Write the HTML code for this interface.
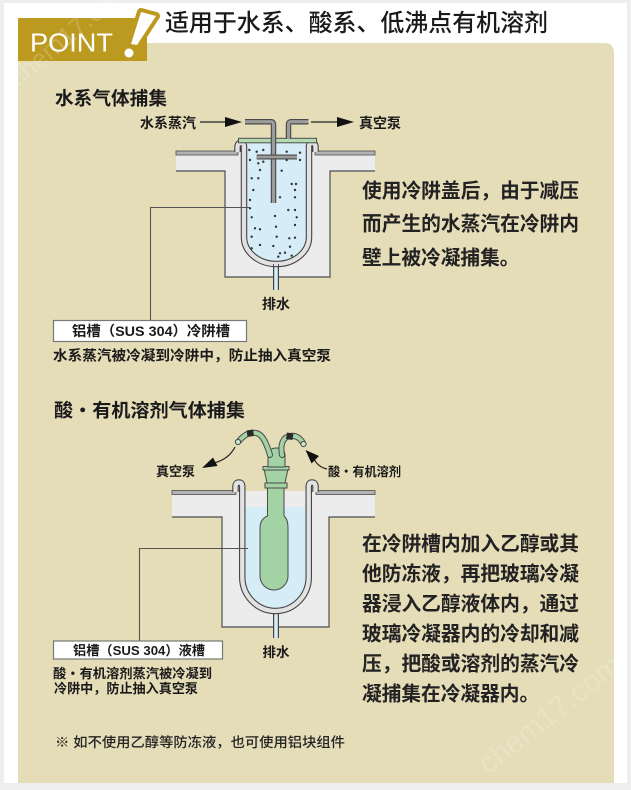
<!DOCTYPE html>
<html>
<head>
<meta charset="utf-8">
<style>
html,body{margin:0;padding:0;background:#eeeeee;}
svg{display:block;}
text{font-family:"Liberation Sans","Noto Sans CJK SC",sans-serif;}
</style>
</head>
<body>
<svg width="631" height="790" viewBox="0 0 631 790" xmlns="http://www.w3.org/2000/svg">
<rect x="0" y="0" width="631" height="790" fill="#eeeeee"/>
<rect x="4" y="3" width="623" height="780" fill="#ffffff"/>
<!-- panel -->
<path d="M18,43 H604 Q614,43 614,53 V783 H18 Z" fill="#e5dcb8"/>

<!-- POINT badge -->
<rect x="18" y="18" width="129" height="43" fill="#bc9a1f"/>
<path d="M141,12 L156,16 L137,45 L131,44 Z" fill="#ffffff" stroke="#bc9a1f" stroke-width="8" stroke-linejoin="round" paint-order="stroke"/>
<circle cx="129" cy="53" r="4.5" fill="#ffffff" stroke="#bc9a1f" stroke-width="5" paint-order="stroke"/>
<text x="30" y="51.5" font-size="26" fill="#ffffff" textLength="83" lengthAdjust="spacingAndGlyphs" style="font-family:'Liberation Sans',sans-serif">POINT</text>

<!-- title -->
<text x="165" y="31" font-size="24" font-weight="500" fill="#1a1a1a" textLength="383" lengthAdjust="spacingAndGlyphs">适用于水系、酸系、低沸点有机溶剂</text>

<!-- heading 1 -->
<text x="55" y="105" font-size="18.5" font-weight="bold" fill="#1a1a1a" textLength="112" lengthAdjust="spacingAndGlyphs">水系气体捕集</text>

<!-- ===== Diagram 1 ===== -->
<path d="M176,152 L375,152 L375,171 L330,171 L330,277 L225,277 L225,171 L176,171 Z" fill="#ececec"/>
<path d="M176,171 L225,171 L225,277 L330,277 L330,171 L375,171" fill="none" stroke="#4d4d4d" stroke-width="1.2"/>
<rect x="176" y="151" width="62" height="4" fill="#b3b3b3" stroke="#4d4d4d" stroke-width="0.8"/>
<rect x="315" y="151" width="60" height="4" fill="#b3b3b3" stroke="#4d4d4d" stroke-width="0.8"/>

<path d="M247,143 L247,237 A29.5,24 0 0 0 306,237 L306,143 Z" fill="#d6edf8"/>
<g fill="#333">
<circle cx="249.3" cy="150" r="1.2"/><circle cx="256.7" cy="151.7" r="1.2"/><circle cx="263.3" cy="150" r="1.2"/>
<circle cx="286.7" cy="151.7" r="1.2"/><circle cx="300" cy="152.7" r="1.2"/><circle cx="250" cy="160" r="1.2"/>
<circle cx="258.3" cy="163.3" r="1.2"/><circle cx="263.3" cy="161.7" r="1.2"/><circle cx="286.7" cy="160" r="1.2"/>
<circle cx="300" cy="160" r="1.2"/><circle cx="260" cy="170" r="1.2"/><circle cx="281.7" cy="170.7" r="1.2"/>
<circle cx="251.7" cy="178.3" r="1.2"/><circle cx="258.3" cy="178.3" r="1.2"/><circle cx="291.7" cy="184" r="1.2"/>
<circle cx="296" cy="184" r="1.2"/><circle cx="253.3" cy="190" r="1.2"/><circle cx="295" cy="190" r="1.2"/>
<circle cx="250" cy="200" r="1.2"/><circle cx="280" cy="197.3" r="1.2"/><circle cx="295" cy="197.3" r="1.2"/>
<circle cx="250" cy="208.3" r="1.2"/><circle cx="288.3" cy="210" r="1.2"/><circle cx="295" cy="210" r="1.2"/>
<circle cx="251.7" cy="217.3" r="1.2"/><circle cx="275" cy="216" r="1.2"/><circle cx="296.7" cy="217.3" r="1.2"/>
<circle cx="255" cy="228.3" r="1.2"/><circle cx="260" cy="229.3" r="1.2"/><circle cx="276" cy="226.7" r="1.2"/>
<circle cx="295" cy="225" r="1.2"/><circle cx="251.7" cy="236.7" r="1.2"/><circle cx="276.7" cy="236.7" r="1.2"/>
<circle cx="289.3" cy="238.3" r="1.2"/><circle cx="295" cy="237.7" r="1.2"/><circle cx="260" cy="245" r="1.2"/>
<circle cx="273.3" cy="246" r="1.2"/><circle cx="290" cy="246.7" r="1.2"/><circle cx="280" cy="253.3" r="1.2"/>
<circle cx="285" cy="252.7" r="1.2"/><circle cx="278.3" cy="256.7" r="1.2"/><circle cx="291.7" cy="255.7" r="1.2"/>
<circle cx="251.7" cy="248.3" r="1.2"/>
</g>
<path d="M276,262 L276,290" stroke="#444" stroke-width="6" fill="none"/>
<path d="M276,262 L276,290" stroke="#d6edf8" stroke-width="3.6" fill="none"/>
<path d="M237.5,152 L237.5,147 Q237.5,143 241,143 Q244,143 244,147 L244,237 A32.5,27 0 0 0 309,237 L309,147 Q309,143 312,143 Q315.5,143 315.5,147 L315.5,152" fill="none" stroke="#444" stroke-width="6.5" stroke-linejoin="round"/>
<path d="M237.5,152 L237.5,147 Q237.5,143 241,143 Q244,143 244,147 L244,237 A32.5,27 0 0 0 309,237 L309,147 Q309,143 312,143 Q315.5,143 315.5,147 L315.5,152" fill="none" stroke="#e2e2e2" stroke-width="4.3" stroke-linejoin="round"/>
<path d="M273.5,264 L273.5,290 M278.5,264 L278.5,290" stroke="#444" stroke-width="0.9"/>
<rect x="238.5" y="138.3" width="78" height="4.5" fill="#b5dbb0" stroke="#4d4d4d" stroke-width="1"/>
<g fill="none" stroke-linejoin="round">
<path d="M245,121.7 L271,121.7 Q273.5,121.7 273.5,124.5 L273.5,203" stroke="#4a4a4a" stroke-width="5.5"/>
<path d="M245,121.7 L271,121.7 Q273.5,121.7 273.5,124.5 L273.5,203" stroke="#9c9c9c" stroke-width="3.2"/>
<path d="M256.7,157 L297,157" stroke="#4a4a4a" stroke-width="5"/>
<path d="M256.7,157 L297,157" stroke="#9c9c9c" stroke-width="2.8"/>
<path d="M288.5,139 L288.5,124.5 Q288.5,121.7 291.3,121.7 L308.5,121.7" stroke="#4a4a4a" stroke-width="5.5"/>
<path d="M288.5,139 L288.5,124.5 Q288.5,121.7 291.3,121.7 L308.5,121.7" stroke="#9c9c9c" stroke-width="3.2"/>
</g>
<path d="M200,122 L228,122" stroke="#222" stroke-width="1.2"/>
<polygon points="225,117 242,122 225,127" fill="#111"/>
<path d="M311,122 L339,122" stroke="#222" stroke-width="1.2"/>
<polygon points="337,117 354,122 337,127" fill="#111"/>
<text x="196" y="128" font-size="14" font-weight="bold" fill="#1a1a1a" text-anchor="end">水系蒸汽</text>
<text x="359" y="128" font-size="14" font-weight="bold" fill="#1a1a1a">真空泵</text>
<text x="276" y="309" font-size="14" font-weight="bold" fill="#1a1a1a" text-anchor="middle">排水</text>

<path d="M250,207.5 L150.5,207.5 L150.5,320" fill="none" stroke="#555" stroke-width="1.1"/>
<rect x="53.5" y="320.5" width="193" height="21" fill="#ffffff" stroke="#777" stroke-width="1.2"/>
<text x="72" y="336" font-size="14" font-weight="bold" fill="#1a1a1a" textLength="158" lengthAdjust="spacingAndGlyphs">铝槽（SUS 304）冷阱槽</text>
<text x="53" y="360.5" font-size="14.3" font-weight="bold" fill="#1a1a1a" textLength="278" lengthAdjust="spacingAndGlyphs">水系蒸汽被冷凝到冷阱中，防止抽入真空泵</text>

<g font-size="19.7" font-weight="bold" fill="#222">
<text x="362" y="197.5" textLength="217" lengthAdjust="spacingAndGlyphs">使用冷阱盖后，由于减压</text>
<text x="362" y="230.5" textLength="217" lengthAdjust="spacingAndGlyphs">而产生的水蒸汽在冷阱内</text>
<text x="362" y="264.5">壁上被冷凝捕集。</text>
</g>

<text x="54" y="417" font-size="18.5" font-weight="bold" fill="#1a1a1a" textLength="191" lengthAdjust="spacingAndGlyphs">酸・有机溶剂气体捕集</text>

<!-- ===== Diagram 2 ===== -->
<path d="M172,491 L375,491 L375,517 L329,517 L329,627 L222,627 L222,517 L172,517 Z" fill="#ececec"/>
<path d="M172,517 L222,517 L222,627 L329,627 L329,517 L375,517" fill="none" stroke="#4d4d4d" stroke-width="1.2"/>
<rect x="172" y="490.5" width="64" height="4" fill="#b3b3b3" stroke="#4d4d4d" stroke-width="0.8"/>
<rect x="316" y="490.5" width="59" height="4" fill="#b3b3b3" stroke="#4d4d4d" stroke-width="0.8"/>

<path d="M245.5,507 L245.5,577 A30,31 0 0 0 305.5,577 L305.5,507 Z" fill="#d6edf8"/>
<path d="M276,610 L276,638" stroke="#444" stroke-width="6" fill="none"/>
<path d="M276,610 L276,638" stroke="#d6edf8" stroke-width="3.6" fill="none"/>
<path d="M235.5,492 L235.5,487 Q235.5,482.5 239,482.5 Q242.25,482.5 242.25,487 L242.25,577 A33.25,34 0 0 0 308.75,577 L308.75,487 Q308.75,482.5 312,482.5 Q315.5,482.5 315.5,487 L315.5,492" fill="none" stroke="#444" stroke-width="6.5" stroke-linejoin="round"/>
<path d="M235.5,492 L235.5,487 Q235.5,482.5 239,482.5 Q242.25,482.5 242.25,487 L242.25,577 A33.25,34 0 0 0 308.75,577 L308.75,487 Q308.75,482.5 312,482.5 Q315.5,482.5 315.5,487 L315.5,492" fill="none" stroke="#e2e2e2" stroke-width="4.3" stroke-linejoin="round"/>

<g stroke="#4a4a4a" stroke-width="1" fill="#a3d3a5">
<path d="M267.5,486 L267.5,516 Q260,519 260,528 L260,576 A14,14 0 0 0 288,576 L288,528 Q288,519 284,516 L284,486 Z"/>
<polygon points="264,469 288,469 285,483 267,483"/>
<rect x="265" y="483" width="22" height="5"/>
<rect x="263" y="466.5" width="26" height="3.5"/>
<path d="M268,467 L268,456 Q268,448 276.5,448 Q285,448 285,456 L285,467 Z"/>
</g>
<g fill="none" stroke-linecap="round" stroke-linejoin="round">
<path d="M270,455 C267,445 263,434 256,433 C250,432 245,434 239,441" stroke="#4a4a4a" stroke-width="6"/>
<path d="M270,455 C267,445 263,434 256,433 C250,432 245,434 239,441" stroke="#a3d3a5" stroke-width="4"/>
<path d="M282,455 C280,444 283,437 290,436 C296,435 300,438 303,443" stroke="#4a4a4a" stroke-width="6"/>
<path d="M282,455 C280,444 283,437 290,436 C296,435 300,438 303,443" stroke="#a3d3a5" stroke-width="4"/>
</g>
<rect x="247" y="430" width="6.5" height="6.5" fill="#2a2a2a" transform="rotate(-8 250 433)"/>
<rect x="286.5" y="433" width="6.5" height="6.5" fill="#2a2a2a" transform="rotate(10 290 436)"/>
<circle cx="238" cy="442" r="2.6" fill="#c8e6c8" stroke="#4a4a4a" stroke-width="1"/>
<circle cx="303.5" cy="444" r="2.6" fill="#c8e6c8" stroke="#4a4a4a" stroke-width="1"/>

<path d="M235,447 Q229,459 214,463" fill="none" stroke="#222" stroke-width="1.2"/>
<polygon points="202,468 213,457.5 217.5,466" fill="#111"/>
<path d="M314,459 Q318,467 327,469" fill="none" stroke="#222" stroke-width="1.2"/>
<polygon points="305.5,450 319,456 311.5,463.5" fill="#111"/>
<text x="156" y="476" font-size="13" font-weight="bold" fill="#1a1a1a" textLength="39" lengthAdjust="spacingAndGlyphs">真空泵</text>
<text x="328" y="476" font-size="12.5" font-weight="bold" fill="#1a1a1a" textLength="73" lengthAdjust="spacingAndGlyphs">酸・有机溶剂</text>
<text x="276" y="657" font-size="13.5" font-weight="bold" fill="#1a1a1a" text-anchor="middle">排水</text>

<path d="M248,548.5 L139.5,548.5 L139.5,641" fill="none" stroke="#555" stroke-width="1.1"/>
<rect x="53.5" y="641" width="169" height="18" fill="#ffffff" stroke="#777" stroke-width="1.2"/>
<text x="73" y="655" font-size="13" font-weight="bold" fill="#1a1a1a" textLength="132" lengthAdjust="spacingAndGlyphs">铝槽（SUS 304）液槽</text>
<text x="53" y="678" font-size="13.3" font-weight="bold" fill="#1a1a1a" textLength="159" lengthAdjust="spacingAndGlyphs">酸・有机溶剂蒸汽被冷凝到</text>
<text x="54" y="693" font-size="13.3" font-weight="bold" fill="#1a1a1a" textLength="144" lengthAdjust="spacingAndGlyphs">冷阱中，防止抽入真空泵</text>

<g font-size="19.7" font-weight="bold" fill="#222">
<text x="362" y="550.5" textLength="217" lengthAdjust="spacingAndGlyphs">在冷阱槽内加入乙醇或其</text>
<text x="362" y="580.5" textLength="217" lengthAdjust="spacingAndGlyphs">他防冻液，再把玻璃冷凝</text>
<text x="362" y="610.5" textLength="217" lengthAdjust="spacingAndGlyphs">器浸入乙醇液体内，通过</text>
<text x="362" y="640.5" textLength="217" lengthAdjust="spacingAndGlyphs">玻璃冷凝器内的冷却和减</text>
<text x="362" y="670.5" textLength="217" lengthAdjust="spacingAndGlyphs">压，把酸或溶剂的蒸汽冷</text>
<text x="362" y="700.5">凝捕集在冷凝器内。</text>
</g>

<text x="55" y="747" font-size="13.8" font-weight="500" fill="#222" textLength="290" lengthAdjust="spacingAndGlyphs">※ 如不使用乙醇等防冻液，也可使用铝块组件</text>

<text x="0" y="0" font-size="26" fill="#ffffff" fill-opacity="0.18" transform="translate(18,88) rotate(-40)" style="font-family:'Liberation Sans',sans-serif">chem17.com</text>
<text x="0" y="0" font-size="30" fill="#ffffff" fill-opacity="0.18" transform="translate(488,775) rotate(-38)" style="font-family:'Liberation Sans',sans-serif">chem17.com</text>
</svg>
</body>
</html>
